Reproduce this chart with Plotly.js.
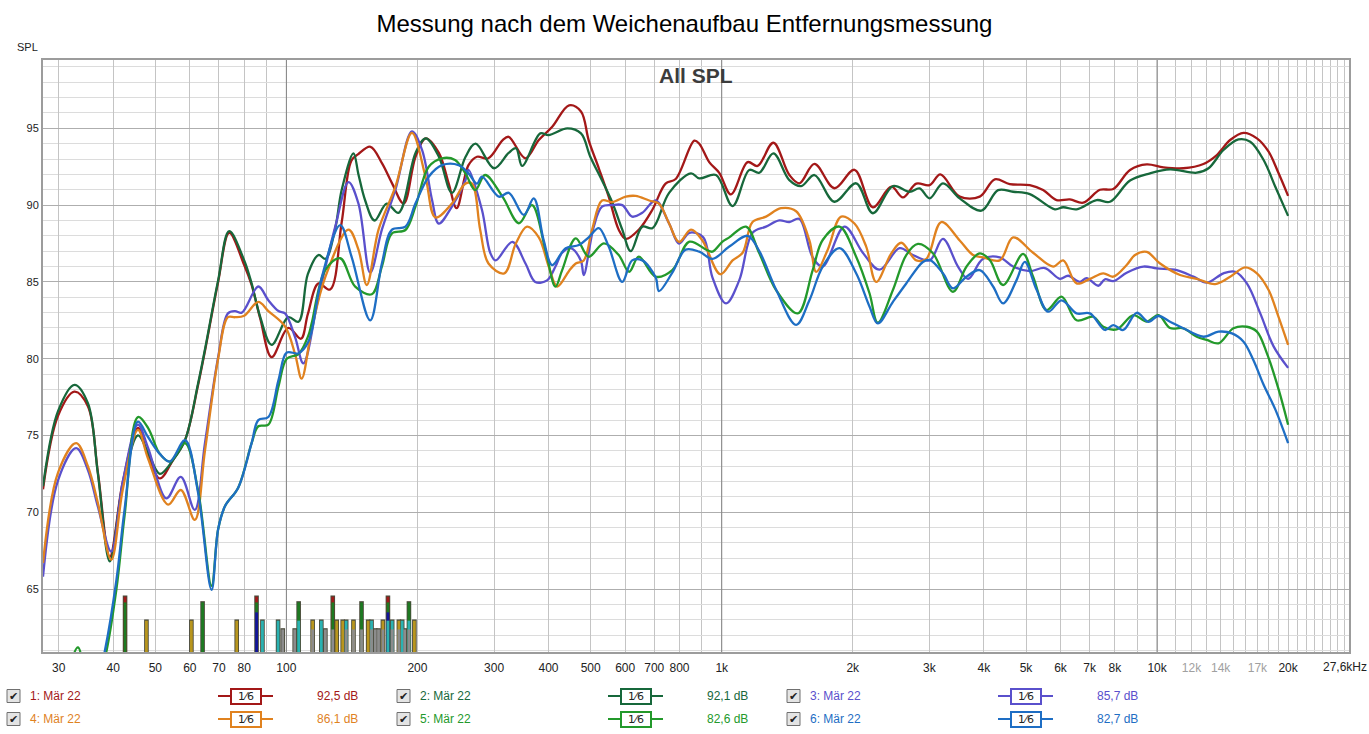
<!DOCTYPE html>
<html>
<head>
<meta charset="utf-8">
<script src="https://cdn.plot.ly/plotly-3.0.1.min.js"></script>
<style>
  body { margin: 0; background: #fff; }
  #myDiv { width: 1369px; height: 734px; }
</style>
</head>
<body>
<div id="myDiv"></div>
<script>
// SPL curves, [frequency Hz, dB]
var spl1 = [[27.6,71.5],[29.9,76.3],[32.6,77.85],[35.0,76.9],[36.9,72.6],[39.3,67.1],[42.1,72.0],[45.6,75.5],[48.1,73.7],[51.2,72.2],[54.9,73.4],[58.5,74.7],[62.7,78.3],[65.0,80.5],[69.7,85.0],[73.9,88.2],[80.0,86.1],[83.2,84.8],[87.1,82.6],[92.5,80.1],[101,82.0],[108,81.3],[112,82.9],[118.5,84.9],[126,84.5],[134,88.9],[141,92.9],[146,93.3],[156,93.8],[166,92.7],[175,91.4],[186,90.1],[198,93.15],[209,94.35],[224,93.4],[236,91.4],[246,89.8],[262,92.6],[274,93.15],[291,93.05],[314,94.24],[324,94.45],[354,93.05],[380,94.24],[408,95.1],[446,96.5],[475,96.1],[495,94.2],[522,92.4],[550,90.55],[580,88.4],[602,87.8],[645,88.4],[693,89.7],[743,91.4],[784,91.7],[865,94.2],[888,94.0],[936,92.8],[987,92.1],[1050,90.7],[1147,92.8],[1209,92.55],[1314,94.06],[1430,91.96],[1508,91.42],[1633,92.68],[1815,91.1],[2018,92.3],[2224,89.86],[2452,91.2],[2607,90.5],[2799,91.4],[3003,91.3],[3178,92.0],[3521,90.55],[3915,90.55],[4239,91.68],[4588,91.37],[5101,91.3],[5473,90.98],[5877,90.33],[6306,90.37],[6767,90.16],[7393,91.0],[7933,91.05],[8668,92.29],[9470,92.65],[10340,92.46],[11490,92.4],[12780,92.68],[13720,93.26],[14720,94.24],[15800,94.71],[16960,94.35],[18040,93.48],[19020,92.07],[20000,90.6]];

var spl2 = [[27.6,71.7],[29.9,76.6],[32.6,78.3],[35.0,77.1],[36.9,72.5],[39.3,66.8],[42.1,71.8],[45.6,75.0],[48.1,73.9],[51.2,72.5],[54.9,73.4],[58.5,74.7],[62.7,78.4],[65.0,80.6],[69.7,85.1],[73.9,88.3],[80.0,86.4],[83.2,84.9],[87.1,82.7],[92.5,80.9],[101,82.7],[106.6,82.4],[112,85.5],[118.5,86.75],[123,86.5],[129.5,88.5],[134,91.0],[142.6,93.37],[146.4,92.0],[151.7,90.3],[159.4,89.0],[170,90.1],[181,89.5],[198,93.4],[209,94.35],[224,93.15],[240,90.8],[258,93.15],[272,94.0],[300,92.4],[324,93.4],[337,93.7],[348,92.55],[383,94.67],[400,94.56],[442,95.0],[475,94.67],[499,93.15],[531,91.6],[560,90.2],[591,88.4],[618,87.0],[657,88.6],[693,88.5],[757,90.8],[850,92.07],[888,91.74],[970,91.96],[1059,89.94],[1157,92.29],[1220,92.11],[1314,93.37],[1430,91.63],[1522,91.24],[1633,91.96],[1815,90.22],[2036,91.42],[2224,89.47],[2473,91.24],[2701,90.87],[2848,91.09],[3003,90.44],[3222,91.42],[3521,90.44],[3950,89.64],[4313,90.98],[4670,90.87],[5101,90.72],[5824,89.73],[6086,89.86],[6533,89.73],[7265,90.33],[7795,90.22],[8668,91.6],[9636,92.07],[10710,92.33],[12340,92.11],[13130,92.4],[14210,93.59],[15380,94.28],[16370,94.13],[17570,92.94],[18690,91.2],[20000,89.3]];

var spl3 = [[27.6,65.8],[29.9,72.1],[32.9,74.17],[35.0,72.75],[36.9,70.36],[39.6,67.44],[42.1,72.0],[45.6,75.7],[48.1,74.2],[53.0,70.9],[57.2,72.3],[61.6,70.15],[65.0,74.5],[69.7,80.1],[73.4,82.95],[76.2,83.1],[79.0,83.0],[86.2,84.7],[90.9,83.8],[95.9,83.1],[99.3,82.95],[104.7,81.4],[109.4,79.7],[118.5,84.0],[129.5,88.6],[138.9,91.5],[146.4,90.1],[155.8,85.6],[165.7,88.4],[178,91.0],[194.3,94.8],[204.9,93.6],[216.2,90.3],[223.8,88.8],[240,89.9],[257.7,91.6],[262,92.3],[281.3,89.7],[293.9,86.9],[302.4,86.4],[330.5,87.6],[354.2,86.2],[373,85.0],[397,85.1],[415,86.0],[430,86.9],[450,87.2],[474.5,86.4],[482,85.45],[508.3,88.6],[531,89.9],[560,90.0],[591,90.0],[622.5,89.25],[657,89.5],[705,90.3],[757,88.8],[798,87.5],[843,88.2],[907,87.9],[952,85.3],[1023,83.6],[1097,85.1],[1177,88.2],[1264,88.6],[1356,89.0],[1430,88.9],[1508,89.1],[1618,86.6],[1706,86.0],[1914,88.6],[2109,86.9],[2304,85.8],[2562,87.2],[2749,86.75],[3003,86.4],[3222,87.8],[3489,86.0],[3679,85.2],[3984,86.5],[4352,86.6],[4670,86.0],[5101,85.7],[5523,85.9],[5981,85.2],[6250,85.4],[6650,85.0],[6890,85.25],[7328,84.75],[7591,85.17],[7933,85.05],[8515,85.6],[9301,86.0],[9984,85.88],[11100,85.77],[12120,85.34],[13010,84.95],[14210,85.56],[15120,85.66],[16080,84.9],[17260,82.95],[18520,80.8],[20000,79.4]];

var spl4 = [[27.6,66.7],[29.9,72.6],[32.9,74.5],[35.0,73.0],[36.9,70.6],[39.6,66.9],[42.1,71.5],[45.6,75.36],[48.1,73.5],[53.5,70.5],[57.2,71.45],[61.6,69.5],[65.0,74.0],[69.7,80.0],[73.4,82.7],[76.2,82.7],[80.0,82.8],[86.2,83.7],[90.9,83.1],[99.3,82.1],[104.7,80.3],[108.4,78.7],[114.3,81.9],[122.8,85.3],[138.9,88.4],[146.4,87.1],[153,84.8],[162.8,88.4],[178,91.2],[194.3,94.7],[208.7,91.85],[220,89.2],[240,90.1],[257.7,91.4],[267,91.4],[278.7,88.4],[291.2,86.2],[316.6,85.56],[336.5,87.5],[357.1,88.6],[380,87.9],[400.5,86.0],[419,84.7],[445.5,85.7],[462,86.2],[482,86.4],[503.7,88.4],[531,90.3],[560,90.2],[602,90.55],[634,90.6],[681.5,90.3],[717.5,90.1],[757,88.8],[798,87.6],[850,88.4],[903,87.7],[993,85.5],[1059,86.4],[1117,86.9],[1177,88.9],[1264,89.25],[1368,89.8],[1482,89.6],[1590,87.7],[1648,85.66],[1752,87.1],[1881,89.25],[2018,88.8],[2147,87.3],[2264,85.0],[2452,86.86],[2585,87.55],[2799,86.4],[2951,86.5],[3194,88.9],[3521,87.7],[3778,86.75],[3984,86.6],[4352,86.4],[4670,87.9],[5191,86.9],[5772,86.0],[6086,86.4],[6533,84.9],[7012,85.2],[7523,85.56],[7933,85.34],[8515,86.1],[8900,86.75],[9470,86.95],[10160,86.2],[11290,85.45],[12340,85.2],[13600,84.86],[14720,85.34],[15940,85.95],[16960,85.56],[18040,84.47],[19020,82.7],[20000,80.9]];

var spl5 = [[27.6,50],[29.9,56],[33.2,61.2],[35.5,57.5],[38.3,60.5],[40.7,65.0],[42.5,69.8],[45.6,76.2],[48.1,75.5],[51.2,73.8],[54.0,73.3],[58.5,74.5],[62.7,71.4],[67.3,65.2],[69.7,68.9],[72.3,70.4],[77.5,71.6],[83.2,74.5],[86.2,75.6],[90.9,75.7],[95.9,78.2],[100.2,80.0],[106.6,80.3],[112.3,81.5],[114.3,82.3],[122.8,85.77],[132.9,86.54],[143.9,84.69],[157.1,84.2],[165.7,86.0],[174.8,88.16],[187.7,88.38],[197.9,89.9],[212.3,92.5],[227.8,93.05],[244,92.94],[257.7,92.07],[271.6,90.98],[286,91.96],[313.6,90.55],[342,88.82],[366.6,90.0],[393.6,87.08],[415,84.69],[430,85.77],[462,87.84],[494.7,86.64],[536,87.51],[580,86.75],[612.8,85.66],[645,86.64],[705,85.34],[770,85.77],[843,87.62],[923.5,87.08],[952,86.97],[1004,87.62],[1041,87.9],[1137,88.6],[1220,86.86],[1333,84.47],[1495,82.95],[1618,85.77],[1706,87.73],[1864,88.6],[2036,86.64],[2185,84.26],[2283,82.34],[2473,84.47],[2654,86.75],[2823,87.47],[3056,86.86],[3398,84.36],[3648,85.99],[3915,86.86],[4128,86.43],[4429,84.8],[4923,86.82],[5191,85.34],[5574,83.17],[6035,84.04],[6533,82.5],[7136,82.73],[7523,82.08],[8077,81.91],[8821,82.84],[9470,82.41],[10070,82.84],[10710,82.0],[11490,81.98],[12340,81.43],[13010,81.22],[13840,81.0],[14980,81.98],[16080,82.08],[16960,81.76],[17880,80.35],[19020,78.0],[20000,75.7]];

var spl6 = [[27.6,48],[29.9,54],[33.2,59.5],[35.5,57],[38.3,61.0],[40.7,65.6],[42.5,70.2],[45.6,75.9],[48.1,74.9],[51.2,73.8],[54.0,73.3],[58.5,74.7],[62.7,71.25],[67.3,64.94],[69.7,68.9],[72.3,70.4],[77.5,71.6],[83.2,74.5],[86.2,76.0],[90.9,76.2],[95.9,78.6],[100.2,80.4],[106.6,80.35],[112.3,81.1],[120.6,85.3],[132.9,88.7],[141.3,86.6],[155.8,82.5],[165.7,86.2],[174.8,88.4],[187.7,88.6],[197.9,90.1],[212.3,91.85],[227.8,92.6],[248.7,92.6],[262,92.07],[274,91.4],[281.3,91.85],[307.6,90.55],[324.4,90.8],[351,89.36],[370,90.44],[390,87.7],[408,86.1],[438,87.2],[470,87.4],[494.7,87.9],[522,88.5],[550,87.3],[591,85.0],[622.5,86.4],[657,86.4],[705,85.3],[717.5,84.4],[770,85.6],[826,87.1],[888,86.97],[952,86.5],[1041,87.3],[1147,88.0],[1220,87.0],[1333,84.5],[1482,82.2],[1590,83.8],[1706,86.0],[1864,87.2],[2036,85.56],[2185,83.4],[2283,82.3],[2473,83.7],[2654,84.9],[2898,86.3],[3003,86.43],[3222,85.56],[3398,84.58],[3648,85.34],[3915,85.77],[4201,84.7],[4429,83.6],[4754,85.1],[4968,86.3],[5285,84.5],[5621,83.06],[6035,83.8],[6533,82.95],[7012,82.95],[7591,81.87],[7933,82.19],[8364,81.87],[8980,82.99],[9550,82.4],[10070,82.78],[10710,82.41],[11490,81.98],[12780,81.43],[13840,81.76],[14860,81.65],[15800,81.11],[16650,79.9],[17570,78.3],[18690,76.7],[20000,74.5]];

var names = ['1: Mär 22', '2: Mär 22', '3: Mär 22', '4: Mär 22', '5: Mär 22', '6: Mär 22'];
var levels = ['92,5 dB', '92,1 dB', '85,7 dB', '86,1 dB', '82,6 dB', '82,7 dB'];
var smoothing = '1⁄6';

// little marker bars along the bottom (frequency Hz) and their heights (dB)
var markRed = [42.6, 85.4, 127.8, 171.1];
var markGreen = [42.6, 64.2, 85.4, 106.7, 127.8, 148.8, 171.1, 191.2];
var markNavy = [85.4, 171.1];
var markGold = [47.7, 60.5, 76.9, 114.9, 130.5, 134.7, 142.6, 154.1, 166.6, 181.3, 196.8];
var markTeal = [88.1, 95.7, 106.7, 120.3, 137.2, 156.9, 171.1, 175.0, 184.5, 191.2];
var markGray = [98.1, 104.5, 114.9, 122.9, 127.8, 137.2, 142.6, 148.8, 156.9, 160.0, 162.8, 166.6, 175.0, 181.3, 187.0, 191.2];
var markTops = [64.5, 64.13, 63.48, 62.94, 62.94, 62.37];

var xTicks = [30,40,50,60,70,80,100,200,300,400,500,600,700,800,1000,2000,3000,4000,5000,6000,7000,8000,10000,12000,14000,17000,20000];
var xLabels = ['30','40','50','60','70','80','100','200','300','400','500','600','700','800','1k','2k','3k','4k','5k','6k','7k','8k','10k','12k','14k','17k','20k'];
var xMinor = [90,900,9000,11000,13000,15000,16000,18000,19000,21000,22000,23000,24000,25000,26000,27000];
var xGrey = ['12k','14k','17k'];
var xEndLabel = '27,6kHz';

var colors = ['#a31818', '#17683b', '#5a50cc', '#e0821f', '#23992b', '#1e6ec4'];
var markColors = ['#a01a1a', '#1d7a22', '#14149a', '#b8961e', '#2ab2b2', '#8c8c8c'];
var font = 'Liberation Sans, Arial, sans-serif';
var yRange = [60.9, 99.45];

// plot box in page pixels: left 43, right 1349, top 60, bottom 652
function px(x) { return (x - 43) / 1306; }
function py(y) { return (652 - y) / 592; }

function barTrace(freqs, top, color, width) {
  var x = [], y = [];
  freqs.forEach(function (f) {
    x.push(f, f, null);
    y.push(yRange[0] - 1, top, null);
  });
  return { x: x, y: y, mode: 'lines', line: { color: color, width: width }, hoverinfo: 'skip', showlegend: false };
}

var data = [];

// darker decade lines
var decades = xTicks.filter(function (v) {
  var l = Math.log10(v);
  return Math.abs(l - Math.round(l)) < 1e-9;
});
var dx = [], dy = [];
decades.forEach(function (v) { dx.push(v, v, null); dy.push(yRange[0] - 1, yRange[1] + 1, null); });
data.push({ x: dx, y: dy, mode: 'lines', line: { color: '#858585', width: 1 }, hoverinfo: 'skip', showlegend: false });

var groups = [markRed, markGreen, markNavy, markGold, markTeal, markGray];
var outline = {};
groups.forEach(function (g, k) {
  g.forEach(function (f) { outline[f] = Math.max(outline[f] || 0, markTops[k]); });
});
var ox = [], oy = [];
Object.keys(outline).forEach(function (f) {
  ox.push(+f, +f, null);
  oy.push(yRange[0] - 1, outline[f] + 0.08, null);
});
data.push({ x: ox, y: oy, mode: 'lines', line: { color: '#4a4a3a', width: 4.6 }, hoverinfo: 'skip', showlegend: false });
groups.forEach(function (g, k) {
  data.push(barTrace(g, markTops[k], markColors[k], 2.8));
});

var allSpl = [spl1, spl2, spl3, spl4, spl5, spl6];
allSpl.forEach(function (s, i) {
  data.push({
    x: s.map(function (p) { return p[0]; }),
    y: s.map(function (p) { return p[1]; }),
    mode: 'lines',
    type: 'scatter',
    name: names[i],
    line: { color: colors[i], width: 2.3, shape: 'spline', smoothing: 1 },
    showlegend: false
  });
});

var tickText = xLabels.map(function (t) {
  return xGrey.indexOf(t) >= 0 ? '<span style="color:#a0a0a0">' + t + '</span>' : t;
});

var shapes = [];
var annotations = [
  { text: '<b>All SPL</b>', xref: 'paper', yref: 'paper', x: 0.5, y: py(76), xanchor: 'center', yanchor: 'middle', showarrow: false,
    font: { family: font, size: 21, color: '#3c3c3c' } },
  { text: 'SPL', xref: 'paper', yref: 'paper', x: px(27), y: py(47), xanchor: 'center', yanchor: 'middle', showarrow: false,
    font: { family: font, size: 11, color: '#222' } },
  { text: xEndLabel, xref: 'paper', yref: 'paper', x: px(1345), y: py(667), xanchor: 'center', yanchor: 'middle', showarrow: false,
    font: { family: font, size: 12, color: '#222' } }
];

// legend rows under the plot
names.forEach(function (n, i) {
  var col = i % 3, row = Math.floor(i / 3);
  var x0 = 7 + col * 390;
  var yc = 696 + row * 23;
  shapes.push({ type: 'rect', xref: 'paper', yref: 'paper', x0: px(x0), x1: px(x0 + 13), y0: py(yc + 6.5), y1: py(yc - 6.5),
    fillcolor: '#e4e4e4', line: { color: '#707070', width: 1 } });
  shapes.push({ type: 'line', xref: 'paper', yref: 'paper', x0: px(x0 + 211), x1: px(x0 + 266), y0: py(yc), y1: py(yc),
    line: { color: colors[i], width: 2 } });
  annotations.push({ text: '✔', xref: 'paper', yref: 'paper', x: px(x0 + 6.5), y: py(yc), xanchor: 'center', yanchor: 'middle', showarrow: false,
    font: { family: 'DejaVu Sans', size: 11, color: '#222' } });
  annotations.push({ text: n, xref: 'paper', yref: 'paper', x: px(x0 + 21), y: py(yc), xanchor: 'left', yanchor: 'middle', showarrow: false,
    font: { family: font, size: 12, color: colors[i] } });
  annotations.push({ text: smoothing, xref: 'paper', yref: 'paper', x: px(x0 + 239), y: py(yc), xanchor: 'center', yanchor: 'middle', showarrow: false,
    bgcolor: '#ffffff', bordercolor: colors[i], borderwidth: 2, borderpad: 0, width: 28, height: 13,
    font: { family: 'DejaVu Sans', size: 11, color: '#222' } });
  annotations.push({ text: levels[i], xref: 'paper', yref: 'paper', x: px(x0 + 353), y: py(yc), xanchor: 'right', yanchor: 'middle', showarrow: false,
    font: { family: font, size: 12, color: colors[i] } });
});

var layout = {
  width: 1369,
  height: 734,
  margin: { l: 43, r: 20, t: 60, b: 82 },
  paper_bgcolor: '#ffffff',
  plot_bgcolor: '#ffffff',
  showlegend: false,
  title: {
    text: 'Messung nach dem Weichenaufbau Entfernungsmessung',
    font: { family: font, size: 24, color: '#000' },
    x: 0.5, xref: 'container', y: 1 - 24 / 734, yref: 'container', yanchor: 'middle'
  },
  xaxis: {
    type: 'log',
    range: [Math.log10(27.6), Math.log10(27600)],
    tickmode: 'array',
    tickvals: xTicks,
    ticktext: tickText,
    ticks: '',
    ticklabelstandoff: 4,
    showgrid: true,
    gridcolor: '#c4c4c4',
    gridwidth: 1,
    minor: { tickmode: 'array', tickvals: xMinor, showgrid: true, gridcolor: '#c4c4c4', ticks: '' },
    zeroline: false,
    showline: true,
    mirror: true,
    linecolor: '#9c9c9c',
    linewidth: 2,
    tickfont: { family: font, size: 12, color: '#222' }
  },
  yaxis: {
    range: yRange,
    tick0: 0,
    dtick: 5,
    ticks: '',
    showgrid: true,
    gridcolor: '#aeaeae',
    minor: { dtick: 1, showgrid: true, gridcolor: '#dcdcdc', ticks: '' },
    zeroline: false,
    showline: true,
    mirror: true,
    linecolor: '#9c9c9c',
    linewidth: 2,
    tickfont: { family: font, size: 11, color: '#222' }
  },
  shapes: shapes,
  annotations: annotations
};

Plotly.newPlot('myDiv', data, layout, { displayModeBar: false, staticPlot: true });
</script>
</body>
</html>
